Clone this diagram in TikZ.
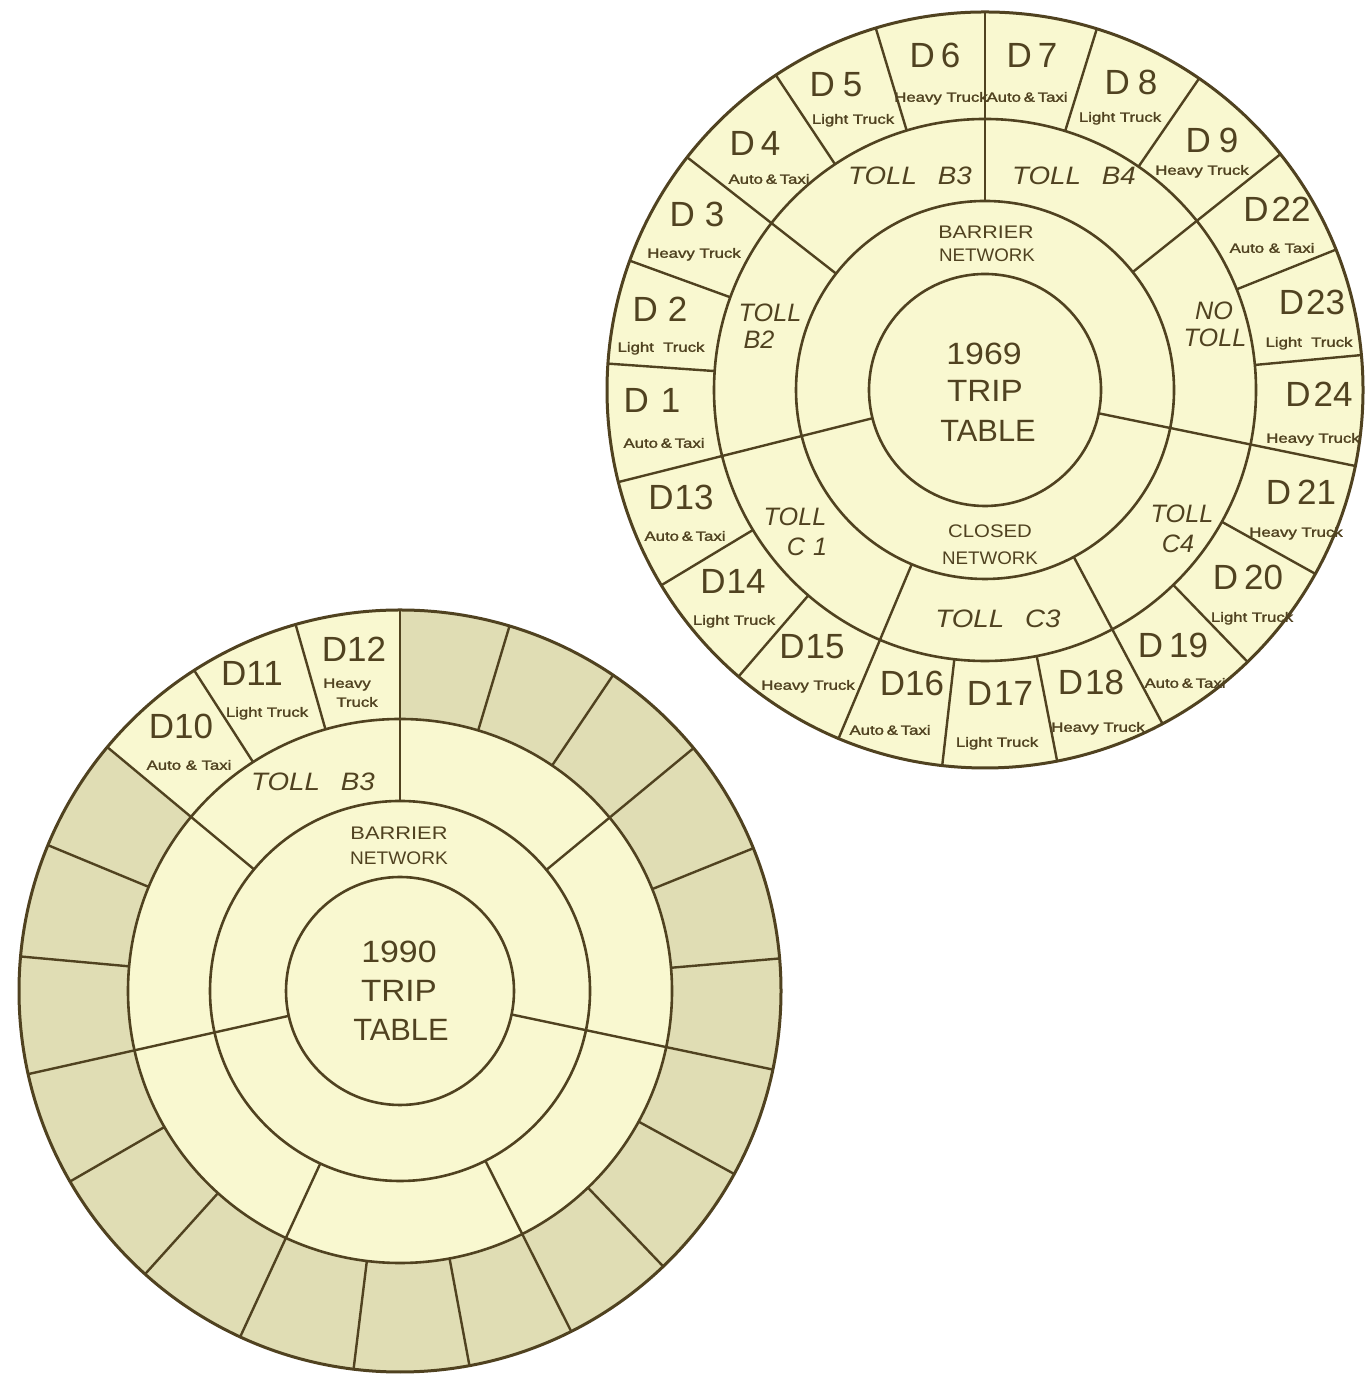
\documentclass[tikz,border=0pt]{standalone}
\usepackage{fontspec}
\setmainfont{Liberation Sans}
\newfontfamily\vehfont[FakeBold=1.5]{Liberation Sans}
\usepackage{graphicx}
\definecolor{ink}{RGB}{80,66,32}
\definecolor{paper}{RGB}{249,248,208}
\definecolor{dark}{RGB}{224,221,180}
\newcommand{\veh}[1]{\scalebox{1.25}[1]{#1}}
\newcommand{\wid}[2]{\scalebox{#1}[1]{#2}}
\newcommand{\dd}[2]{D\kern#1pt#2}
\tikzset{
 divline/.style={draw=ink, line width=1.2pt},
 ringline/.style={draw=ink, line width=1.3pt},
 rimline/.style={draw=ink, line width=1.5pt},
 lab/.style={inner sep=0pt, text=ink, text depth=0pt},
 dlab/.style={lab, font=\fontsize{17.5}{17.5}\selectfont, text height=12.5pt},
 vlab/.style={lab, font=\vehfont\fontsize{6.7}{6.7}\selectfont, text height=4.8pt},
 tlab/.style={lab, font=\fontsize{12.6}{12.6}\selectfont\itshape, text height=9pt},
 nlab/.style={lab, font=\fontsize{9.1}{9.1}\selectfont, text height=6.5pt},
 clab/.style={lab, font=\fontsize{15.4}{15.4}\selectfont, text height=11pt},
}
\begin{document}
\begin{tikzpicture}[x=0.5pt,y=0.5pt]
\useasboundingbox (0,0) rectangle (1369,1374);
\fill[white] (0,0) rectangle (1369,1374);

% ================= TOP CIRCLE (1969) =================
\coordinate (T) at (985,984);
\begin{scope}[shift={(T)}]
  \fill[paper] (0,0) circle (378);
  \foreach \a in {90,72.8,55.5,38.6,21.8,5.3,-11.6,-29.1,-46,-62,-79,-96.5,-112.8,-130.7,-148.9,-165.9,176,160,142,123.6,106.8}
    \draw[divline] (\a:271) -- (\a:378);
  \foreach \a in {90,38.6,-11.6,-62,-112.8,-165.9,142}
    \draw[divline] (\a:189) -- (\a:271);
  \foreach \a in {-11.6,-165.9}
    \draw[divline] (\a:116) -- (\a:189);
  \draw[ringline] (0,0) circle (116);
  \draw[ringline] (0,0) circle (189);
  \draw[ringline] (0,0) circle (271);
  \draw[rimline] (0,0) circle (378);
\end{scope}

% outer ring labels
\node[dlab] (d6) at (935,1319) {\dd{3}{6}};
\node[vlab] (d6v) at (941,1277) {\veh{Heavy Truck}};
\node[dlab] (d7) at (1032,1319) {\dd{3}{7}};
\node[vlab] (d7v) at (1027,1277) {\veh{Auto\,\&\,Taxi}};
\node[dlab] (d5) at (836,1290) {\dd{4}{5}};
\node[vlab] (d5v) at (853,1255) {\veh{Light Truck}};
\node[dlab] (d8) at (1131,1292) {\dd{4}{8}};
\node[vlab] (d8v) at (1120,1257) {\veh{Light Truck}};
\node[dlab] (d4) at (755,1231) {\dd{3}{4}};
\node[vlab] (d4v) at (769,1195) {\veh{Auto\,\&\,Taxi}};
\node[dlab] (d9) at (1212,1234) {\dd{4}{9}};
\node[vlab] (d9v) at (1202,1204) {\veh{Heavy Truck}};
\node[dlab] (d3) at (697,1160) {\dd{5}{3}};
\node[vlab] (d3v) at (694,1121) {\veh{Heavy Truck}};
\node[dlab] (d22) at (1277,1165) {\dd{1.5}{22}};
\node[vlab] (d22v) at (1272,1126) {\veh{Auto \& Taxi}};
\node[dlab] (d2) at (660,1065) {\dd{5}{2}};
\node[vlab] (d2v) at (661,1027) {\veh{Light\ \ Truck}};
\node[dlab] (d23) at (1312,1072) {\dd{1}{23}};
\node[vlab] (d23v) at (1309,1032) {\veh{Light\ \ Truck}};
\node[dlab] (d1) at (652,974) {\dd{6}{1}};
\node[vlab] (d1v) at (664,931) {\veh{Auto\,\&\,Taxi}};
\node[dlab] (d24) at (1319,980) {\dd{1.5}{24}};
\node[vlab] (d24v) at (1313,936) {\veh{Heavy Truck}};
\node[dlab] (d13) at (681,877) {\dd{0.5}{13}};
\node[vlab] (d13v) at (685,838) {\veh{Auto\,\&\,Taxi}};
\node[dlab] (d21) at (1301,882) {\dd{3}{21}};
\node[vlab] (d21v) at (1296,842) {\veh{Heavy Truck}};
\node[dlab] (d14) at (733,793) {\dd{0.5}{14}};
\node[vlab] (d14v) at (734,754) {\veh{Light Truck}};
\node[dlab] (d20) at (1248,797) {\dd{3}{20}};
\node[vlab] (d20v) at (1252,757) {\veh{Light Truck}};
\node[dlab] (d15) at (812,728) {\dd{0.5}{15}};
\node[vlab] (d15v) at (808,689) {\veh{Heavy Truck}};
\node[dlab] (d19) at (1173,729) {\dd{3}{19}};
\node[vlab] (d19v) at (1185,691) {\veh{Auto\,\&\,Taxi}};
\node[dlab] (d16) at (912,691) {\dd{0}{16}};
\node[vlab] (d16v) at (890,644) {\veh{Auto\,\&\,Taxi}};
\node[dlab] (d17) at (1000,681) {\dd{1}{17}};
\node[vlab] (d17v) at (997,632) {\veh{Light Truck}};
\node[dlab] (d18) at (1091,692) {\dd{1}{18}};
\node[vlab] (d18v) at (1098,647) {\veh{Heavy Truck}};

% toll ring labels
\node[tlab] (tb3) at (910,1198) {\wid{1.1}{TOLL \hspace{6pt}B3}};
\node[tlab] (tb4) at (1074,1198) {\wid{1.1}{TOLL \hspace{6pt}B4}};
\node[tlab] (tb2a) at (770,1061) {TOLL};
\node[tlab] (tb2b) at (759,1034) {B2};
\node[tlab] (nta) at (1214,1063) {NO};
\node[tlab] (ntb) at (1215,1036) {TOLL};
\node[tlab] (tc1a) at (795,857) {TOLL};
\node[tlab] (tc1b) at (807,827) {C\kern4pt1};
\node[tlab] (tc4a) at (1182,860) {TOLL};
\node[tlab] (tc4b) at (1178,830) {C4};
\node[tlab] (tc3) at (998,755) {\wid{1.1}{TOLL \hspace{6pt}C3}};

% middle ring labels
\node[nlab] (bn1) at (986,1142) {\wid{1.18}{BARRIER}};
\node[nlab] (bn2) at (987,1119) {\wid{1.03}{NETWORK}};
\node[nlab] (cn1) at (990,843) {\wid{1.12}{CLOSED}};
\node[nlab] (cn2) at (990,816) {\wid{1.03}{NETWORK}};

% centre
\node[clab] (ty) at (984,1020) {\wid{1.1}{1969}};
\node[clab] (tt) at (985,983) {\wid{1.08}{TRIP}};
\node[clab] (ttb) at (988,943) {TABLE};

% ================= BOTTOM CIRCLE (1990) =================
\coordinate (B) at (400,383);
\begin{scope}[shift={(B)}]
  \fill[paper] (0,0) circle (381);
  \fill[dark] (90:272) arc[start angle=90, end angle=-219.8, radius=272]
     -- (-219.8:381) arc[start angle=-219.8, end angle=90, radius=381] -- cycle;
  \foreach \a in {90,73.3,56,39.6,22,4.9,-11.9,-28.7,-46.3,-63.3,-79.5,-97,-114.8,-132,-150,-167.4,174.8,157.5,140.2,122.7,105.9}
    \draw[divline] (\a:272) -- (\a:381);
  \foreach \a in {90,39.6,-11.9,-63.3,-114.8,-167.4,140.2}
    \draw[divline] (\a:190) -- (\a:272);
  \foreach \a in {-11.9,-167.4}
    \draw[divline] (\a:114) -- (\a:190);
  \draw[ringline] (0,0) circle (114);
  \draw[ringline] (0,0) circle (190);
  \draw[ringline] (0,0) circle (272);
  \draw[rimline] (0,0) circle (381);
\end{scope}

\node[dlab] (d10) at (181,648) {\dd{0}{10}};
\node[vlab] (d10v) at (189,609) {\veh{Auto \& Taxi}};
\node[dlab] (d11) at (252,701) {\dd{0}{11}};
\node[vlab] (d11v) at (267,662) {\veh{Light Truck}};
\node[dlab] (d12) at (354,725) {\dd{0}{12}};
\node[vlab] (d12v) at (347,691) {\veh{Heavy}};
\node[vlab] (d12w) at (357,672) {\veh{Truck}};
\node[tlab] (bb3) at (313,592) {\wid{1.1}{TOLL \hspace{6pt}B3}};
\node[nlab] (bbn1) at (399,541) {\wid{1.2}{BARRIER}};
\node[nlab] (bbn2) at (399,516) {\wid{1.05}{NETWORK}};
\node[clab] (by) at (399,422) {\wid{1.1}{1990}};
\node[clab] (bt) at (399,383) {\wid{1.08}{TRIP}};
\node[clab] (btb) at (401,344) {TABLE};
\end{tikzpicture}
\end{document}
